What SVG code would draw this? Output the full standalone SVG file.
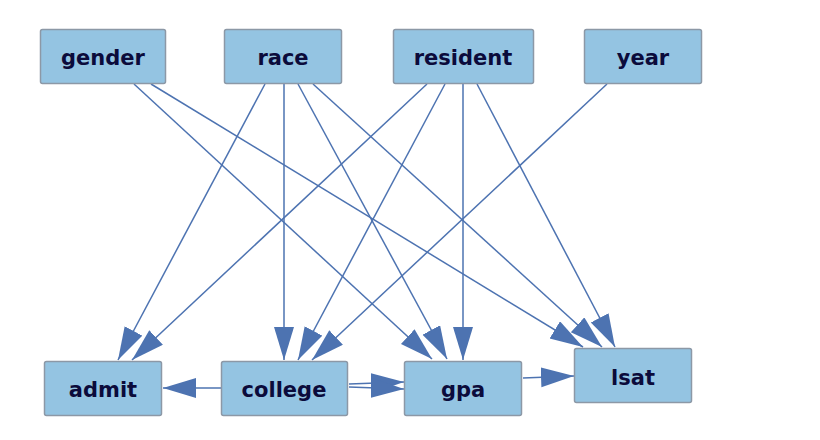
<svg xmlns="http://www.w3.org/2000/svg" width="820" height="440" viewBox="0 0 820 440">
<style>
.node rect{fill:#94c4e2;stroke:#8c98a6;stroke-width:1.5}
.node text{font-family:"DejaVu Sans",sans-serif;font-weight:bold;font-size:21px;fill:#0b0b3b;text-anchor:middle}
.edges line{stroke:#4d73b1;stroke-width:1.5;marker-end:url(#ah)}
</style>
<defs>
<marker id="ah" markerUnits="userSpaceOnUse" markerWidth="34" markerHeight="22" refX="33" refY="10" orient="auto">
<path d="M0,0 L33,10 L0,20 z" fill="#4d73b1"/>
</marker>
</defs>
<rect width="820" height="440" fill="#ffffff"/>
<g class="edges">
<line x1="134" y1="84" x2="432" y2="359"/>
<line x1="151" y1="84" x2="583" y2="347"/>
<line x1="265" y1="84" x2="118" y2="360"/>
<line x1="284" y1="84" x2="284" y2="360"/>
<line x1="298" y1="84" x2="447" y2="359"/>
<line x1="313" y1="84" x2="602" y2="347"/>
<line x1="427" y1="84" x2="132" y2="360"/>
<line x1="445" y1="84" x2="298" y2="360"/>
<line x1="463" y1="84" x2="463" y2="360"/>
<line x1="477" y1="84" x2="615" y2="347"/>
<line x1="607" y1="84" x2="312" y2="360"/>
<line x1="221" y1="388" x2="163" y2="388"/>
<line x1="349" y1="384" x2="404" y2="382"/>
<line x1="349" y1="387" x2="404" y2="389"/>
<line x1="523" y1="378" x2="574" y2="376"/>
</g>
<g id="gender" class="node"><rect x="40.5" y="29.5" width="125" height="54" rx="2"/><text x="103" y="65">gender</text></g>
<g id="race" class="node"><rect x="224.5" y="29.5" width="117" height="54" rx="2"/><text x="283" y="65">race</text></g>
<g id="resident" class="node"><rect x="393.5" y="29.5" width="140" height="54" rx="2"/><text x="463" y="65">resident</text></g>
<g id="year" class="node"><rect x="584.5" y="29.5" width="117" height="54" rx="2"/><text x="643" y="65">year</text></g>
<g id="admit" class="node"><rect x="44.5" y="361.5" width="117" height="54" rx="2"/><text x="103" y="397">admit</text></g>
<g id="college" class="node"><rect x="221.5" y="361.5" width="126" height="54" rx="2"/><text x="284" y="397">college</text></g>
<g id="gpa" class="node"><rect x="404.5" y="361.5" width="117" height="54" rx="2"/><text x="463" y="397">gpa</text></g>
<g id="lsat" class="node"><rect x="574.5" y="348.5" width="117" height="54" rx="2"/><text x="633" y="385">lsat</text></g>
</svg>
